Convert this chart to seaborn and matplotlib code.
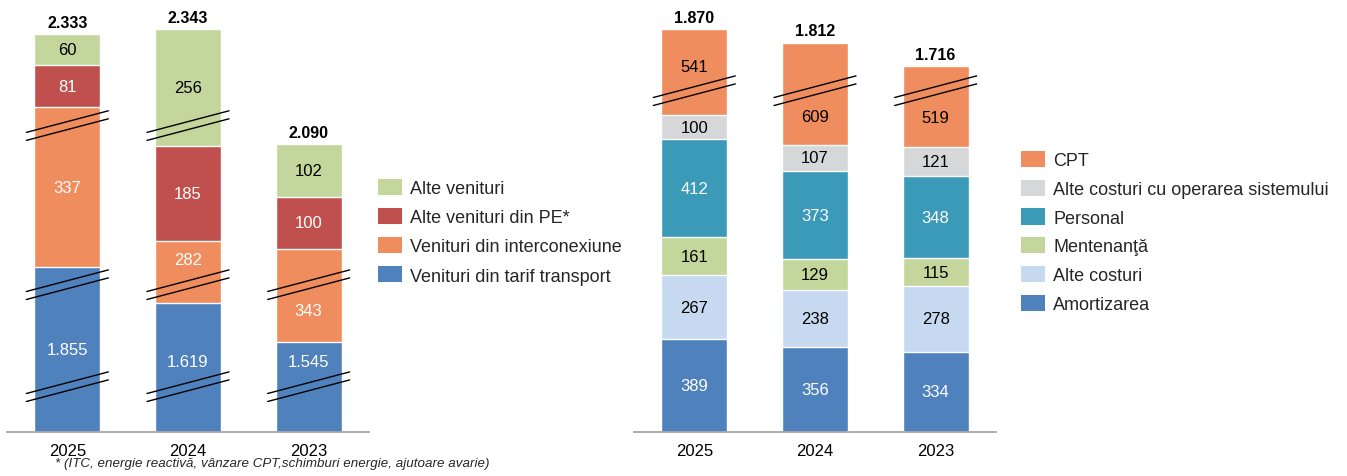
import matplotlib
matplotlib.use("Agg")
import matplotlib.pyplot as plt
from matplotlib.patches import Patch
from matplotlib.lines import Line2D
from matplotlib.transforms import IdentityTransform
import seaborn as sns
import pandas as pd

years = ["2025", "2024", "2023"]

# Venituri (left chart), listed bottom -> top
rev_series = [
    "Venituri din tarif transport",
    "Venituri din interconexiune",
    "Alte venituri din PE*",
    "Alte venituri",
]
rev_tarif = [1855, 1619, 1545]
rev_interconex = [337, 282, 343]
rev_pe = [81, 185, 100]
rev_alte = [60, 256, 102]
rev_totals = [2333, 2343, 2090]
# part of each segment hidden by the axis breaks
rev_cut_tarif = [1537, 1370, 1372]
rev_cut_interconex = [29, 164, 163]
rev_cut_pe = [0, 0, 0]
rev_cut_alte = [0, 31, 0]

# Costuri (right chart), listed bottom -> top
cost_series = [
    "Amortizarea",
    "Alte costuri",
    "Mentenanţă",
    "Personal",
    "Alte costuri cu operarea sistemului",
    "CPT",
]
cost_amort = [389, 356, 334]
cost_alte = [267, 238, 278]
cost_mentenanta = [161, 129, 115]
cost_personal = [412, 373, 348]
cost_operare = [100, 107, 121]
cost_cpt = [541, 609, 519]
cost_totals = [1870, 1812, 1716]
cost_cut_cpt = [180, 178, 179]

BLUE = "#4F81BD"
ORANGE = "#F08D5F"
RED = "#C0504D"
GREEN = "#C3D69B"
TEAL = "#3A9AB8"
LIGHTBLUE = "#C6D9F1"
GRAY = "#D6D7D9"

FIG_W, FIG_H, DPI = 1347, 477, 100
BASE = 432.5  # baseline, px from top
FS = 12
LEG_FS = 13


def fmt(v):
    return f"{v:,}".replace(",", ".")


def make_frame(series, values, cuts):
    rows = []
    for name, vals, cut in zip(series, values, cuts):
        for y, v, c in zip(years, vals, cut):
            rows.append({"year": y, "series": name, "value": v, "shown": v - c, "cut": c})
    df = pd.DataFrame(rows)
    df["top"] = df.groupby("year")["shown"].cumsum()
    df["bottom"] = df["top"] - df["shown"]
    return df


def draw_break(fig, ax, x, y):
    cx, cy = ax.transData.transform((x, y))
    for off in (-4, 4):
        fig.add_artist(
            Line2D(
                [cx - 41, cx + 41],
                [cy - 10.8 + off, cy + 10.8 + off],
                transform=IdentityTransform(),
                color="black",
                lw=1.0,
            )
        )


def stacked_chart(fig, ax, df, colors, text_colors, totals, scale, breaks, nudges):
    ax.set_ylim(0, BASE / scale)
    series = list(df["series"].unique())
    # draw cumulative bars from the top series down
    for name in reversed(series):
        sub = df[df["series"] == name]
        sns.barplot(
            data=sub,
            x="year",
            y="top",
            order=years,
            color=colors[name],
            saturation=1,
            width=0.547,
            edgecolor="white",
            linewidth=1,
            errorbar=None,
            ax=ax,
        )
    ax.set_xlim(-0.5, 2.5)
    ax.set_ylim(0, BASE / scale)

    for _, r in df.iterrows():
        i = years.index(r["year"])
        ax.annotate(
            fmt(r["value"]),
            (i, r["bottom"] + r["shown"] / 2),
            xytext=(0, nudges.get((r["year"], r["series"]), 0) * 0.72),
            textcoords="offset points",
            ha="center",
            va="center",
            fontsize=FS,
            color=text_colors[r["series"]],
        )
    tops = df.groupby("year")["top"].max()
    for i, y in enumerate(years):
        ax.annotate(
            fmt(totals[i]),
            (i, tops[y]),
            xytext=(0, 3),
            textcoords="offset points",
            ha="center",
            va="bottom",
            fontsize=11.5,
            fontweight="bold",
            color="black",
        )

    sns.despine(ax=ax, left=True)
    ax.spines["bottom"].set_color("#A6A6A6")
    ax.spines["bottom"].set_linewidth(1.3)
    ax.set_yticks([])
    ax.set_xlabel("")
    ax.set_ylabel("")
    ax.tick_params(axis="x", length=0, pad=8, labelsize=FS, labelcolor="black")

    # break marks where a cut segment crosses the break level
    for lvl in breaks:
        yv = lvl / scale
        for _, r in df[df["cut"] > 0].iterrows():
            if r["bottom"] < yv < r["top"]:
                draw_break(fig, ax, years.index(r["year"]), yv)


sns.set_theme(style="white")
plt.rcParams["font.family"] = ["Liberation Sans", "DejaVu Sans"]

fig = plt.figure(figsize=(FIG_W / DPI, FIG_H / DPI), dpi=DPI)
ax1 = fig.add_axes([7 / FIG_W, (FIG_H - BASE) / FIG_H, 362 / FIG_W, BASE / FIG_H])
ax2 = fig.add_axes([634 / FIG_W, (FIG_H - BASE) / FIG_H, 362 / FIG_W, BASE / FIG_H])

rev_df = make_frame(
    rev_series,
    [rev_tarif, rev_interconex, rev_pe, rev_alte],
    [rev_cut_tarif, rev_cut_interconex, rev_cut_pe, rev_cut_alte],
)
rev_colors = dict(zip(rev_series, [BLUE, ORANGE, RED, GREEN]))
rev_text = dict(zip(rev_series, ["white", "white", "white", "black"]))
rev_nudges = {
    ("2024", rev_series[0]): 6,
    ("2023", rev_series[0]): 25,
    ("2024", rev_series[1]): 12,
    ("2023", rev_series[1]): -15,
}
stacked_chart(fig, ax1, rev_df, rev_colors, rev_text, rev_totals, 0.518,
              [44.8, 146.8, 305.9], rev_nudges)

cost_df = make_frame(
    cost_series,
    [cost_amort, cost_alte, cost_mentenanta, cost_personal, cost_operare, cost_cpt],
    [[0, 0, 0]] * 5 + [cost_cut_cpt],
)
cost_colors = dict(zip(cost_series, [BLUE, LIGHTBLUE, GREEN, TEAL, GRAY, ORANGE]))
cost_text = dict(zip(cost_series, ["white", "black", "black", "white", "black", "black"]))
cost_nudges = {
    ("2025", cost_series[5]): 6,
    ("2024", cost_series[5]): -23,
    ("2023", cost_series[5]): -11,
}
stacked_chart(fig, ax2, cost_df, cost_colors, cost_text, cost_totals, 0.238,
              [340.8], cost_nudges)

# legends, top entry = top of the stack
for ax, series, colors, x0, y0, sp in [
    (ax1, rev_series, rev_colors, 377.7, 180, 0.6),
    (ax2, cost_series, cost_colors, 1020.7, 152, 0.58),
]:
    handles = [Patch(facecolor=colors[s], edgecolor="none", label=s) for s in reversed(series)]
    ax.legend(
        handles=handles,
        loc="upper left",
        bbox_to_anchor=(x0 / FIG_W, 1 - y0 / FIG_H),
        bbox_transform=fig.transFigure,
        frameon=False,
        fontsize=LEG_FS,
        handlelength=1.36,
        handleheight=1.0,
        handletextpad=0.45,
        labelspacing=sp,
        borderpad=0,
        borderaxespad=0,
    )

fig.text(
    55 / FIG_W,
    1 - 464 / FIG_H,
    "* (ITC, energie reactivă, vânzare CPT,schimburi energie, ajutoare avarie)",
    fontsize=9.6,
    style="italic",
    ha="left",
    va="center",
)

fig.savefig("out.png", dpi=DPI)
